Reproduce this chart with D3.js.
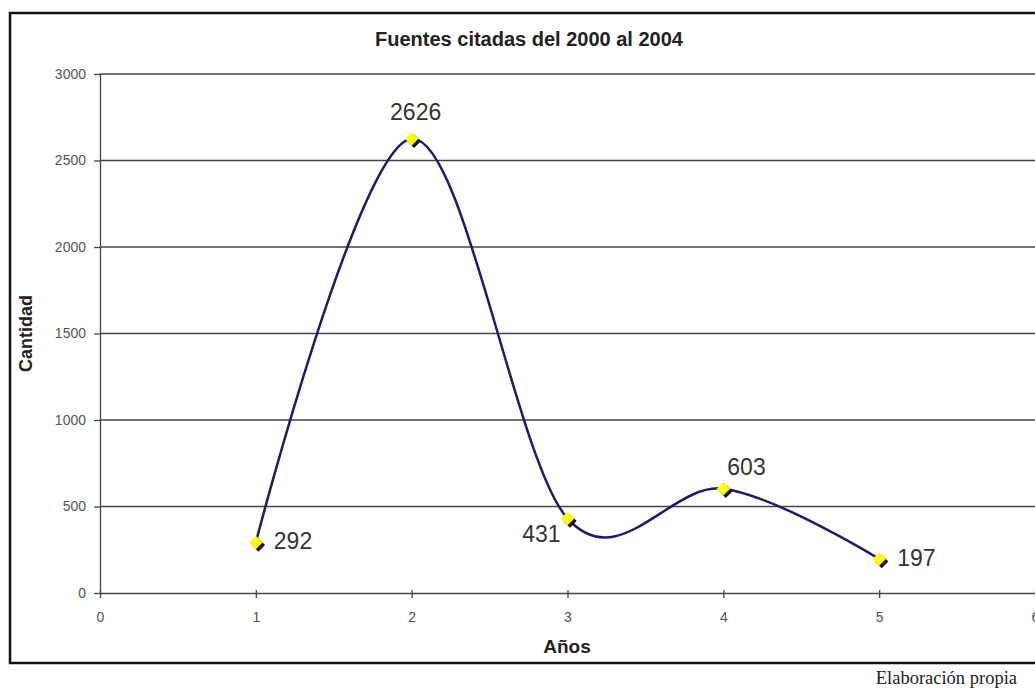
<svg class="chart"></svg>

<script src="https://d3js.org/d3.v7.min.js"></script>
<script>
// datos
years  = [1, 2, 3, 4, 5]
values = [292, 2626, 431, 603, 197]
yTicks = [0, 500, 1000, 1500, 2000, 2500, 3000]
xTicks = [0, 1, 2, 3, 4, 5, 6]
// posición de cada etiqueta respecto al punto
labelPos = ["right", "top", "left", "topright", "right"]

width  = 1035
height = 691
margin = ({top: 74, right: 0, bottom: 98, left: 100})

const font = "Arial, 'Liberation Sans', sans-serif";

const svg = d3.select("svg")
    .attr("width", width)
    .attr("height", height)
    .style("display", "block")
    .style("background", "#fff")
    .style("font-family", font);

d3.select("body").style("margin", 0);

x = d3.scaleLinear()
    .domain([0, 6])
    .range([margin.left, width - margin.right])

y = d3.scaleLinear()
    .domain([0, 3000])
    .range([height - margin.bottom, margin.top])

// marco exterior
svg.append("rect")
    .attr("x", 10).attr("y", 13)
    .attr("width", 1040).attr("height", 650)
    .attr("fill", "none")
    .attr("stroke", "#111")
    .attr("stroke-width", 2.5);

// cuadrícula
svg.append("g")
    .selectAll("line")
    .data(yTicks.filter(d => d > 0))
    .join("line")
      .attr("x1", x(0)).attr("x2", x(6))
      .attr("y1", d => y(d)).attr("y2", d => y(d))
      .attr("stroke", "#444")
      .attr("stroke-width", 1.3);

yAxis = g => g
    .attr("transform", `translate(${margin.left},0)`)
    .call(d3.axisLeft(y).tickValues(yTicks).tickFormat(d3.format("d")).tickSize(5).tickPadding(9).tickSizeOuter(0))
    .call(g => g.selectAll(".tick line").attr("x2", -6).attr("x1", 1))
    .call(g => g.select(".domain").attr("stroke", "#444").attr("stroke-width", 1.3))
    .call(g => g.selectAll("line").attr("stroke", "#444").attr("stroke-width", 1.3))
    .call(g => g.selectAll("text").attr("fill", "#555").style("font-size", "14px").style("font-family", font));

xAxis = g => g
    .attr("transform", `translate(0,${height - margin.bottom})`)
    .call(d3.axisBottom(x).tickValues(xTicks).tickFormat(d3.format("d")).tickSize(5).tickPadding(14).tickSizeOuter(0))
    .call(g => g.selectAll(".tick line").attr("y1", -3).attr("y2", 5))
    .call(g => g.select(".domain").attr("stroke", "#444").attr("stroke-width", 1.3))
    .call(g => g.selectAll("line").attr("stroke", "#444").attr("stroke-width", 1.3))
    .call(g => g.selectAll("text").attr("fill", "#555").style("font-size", "14px").style("font-family", font));

svg.append("g").call(xAxis);
svg.append("g").call(yAxis);

const data = years.map((d, i) => ({x: d, y: values[i], pos: labelPos[i]}));

// línea suavizada
line = d3.line()
    .x(d => x(d.x))
    .y(d => y(d.y))
    .curve(d3.curveCatmullRom.alpha(0))

svg.append("path")
    .datum(data)
    .attr("fill", "none")
    .attr("stroke", "#1c1c6b")
    .attr("stroke-width", 2.5)
    .attr("d", line);

// marcadores: rombo amarillo con sombra negra
const diamond = d3.symbol().type(d3.symbolDiamond2).size(115);

svg.append("g")
    .selectAll("path")
    .data(data)
    .join("path")
      .attr("transform", d => `translate(${x(d.x) + 2.5},${y(d.y) + 2.5})`)
      .attr("d", diamond)
      .attr("fill", "#111");

svg.append("g")
    .selectAll("path")
    .data(data)
    .join("path")
      .attr("transform", d => `translate(${x(d.x)},${y(d.y)})`)
      .attr("d", diamond)
      .attr("fill", "#ffff00");

// etiquetas de datos
const off = {
  right:    {dx: 18, dy: 7, anchor: "start"},
  top:      {dx: 4, dy: -19, anchor: "middle"},
  left:     {dx: -7, dy: 24, anchor: "end"},
  topright: {dx: 4, dy: -14, anchor: "start"}
};

svg.append("g")
    .selectAll("text")
    .data(data)
    .join("text")
      .attr("x", d => x(d.x) + off[d.pos].dx)
      .attr("y", d => y(d.y) + off[d.pos].dy)
      .attr("text-anchor", d => off[d.pos].anchor)
      .attr("fill", "#333")
      .style("font-size", "23px")
      .text(d => d.y);

// títulos
svg.append("text")
    .attr("x", 529).attr("y", 46)
    .attr("text-anchor", "middle")
    .attr("font-weight", "bold")
    .attr("fill", "#222")
    .style("font-size", "20px")
    .text("Fuentes citadas del 2000 al 2004");

svg.append("text")
    .attr("transform", `translate(32,${(y(0) + y(3000)) / 2}) rotate(-90)`)
    .attr("text-anchor", "middle")
    .attr("font-weight", "bold")
    .attr("fill", "#222")
    .style("font-size", "18px")
    .text("Cantidad");

svg.append("text")
    .attr("x", 567).attr("y", 653)
    .attr("text-anchor", "middle")
    .attr("font-weight", "bold")
    .attr("fill", "#222")
    .style("font-size", "19px")
    .text("Años");

svg.append("text")
    .attr("x", 1017).attr("y", 684)
    .attr("text-anchor", "end")
    .attr("fill", "#222")
    .style("font-family", "'Liberation Serif', 'DejaVu Serif', serif")
    .style("font-size", "18.5px")
    .text("Elaboración propia");
</script>
